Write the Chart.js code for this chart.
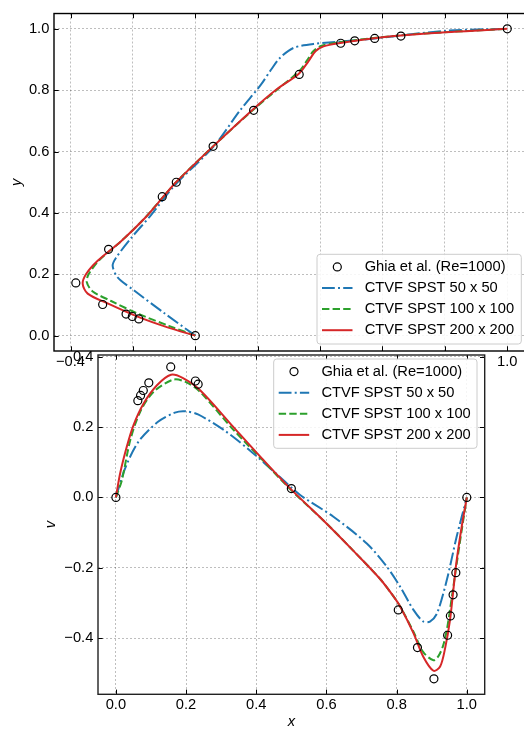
<!DOCTYPE html>
<html>
<head>
<meta charset="utf-8">
<script src="https://cdn.jsdelivr.net/npm/chart.js@4/dist/chart.umd.min.js"></script>
<style>
  html, body { margin: 0; padding: 0; background: #fff; overflow: hidden; width: 524px; height: 731px; }
  #wrap { position: relative; width: 524px; height: 731px; overflow: hidden; }
  canvas { position: absolute; left: 0; top: 0; }
</style>
</head>
<body>
<div id="wrap">
  <canvas id="uChart" width="540" height="731"></canvas>
  <canvas id="vChart" width="524" height="731"></canvas>
</div>
<script>
// ---- u along the vertical centreline (y on the vertical axis) ----
const ghiaY = [1.0, 0.9766, 0.9688, 0.9609, 0.9531, 0.8516, 0.7344, 0.6172, 0.5, 0.4531, 0.2813, 0.1719, 0.1016, 0.0703, 0.0625, 0.0547, 0.0];
const ghiaU = [1.0, 0.659, 0.575, 0.511, 0.466, 0.333, 0.187, 0.057, -0.061, -0.106, -0.278, -0.383, -0.297, -0.222, -0.202, -0.181, 0.0];

const u50Y = [0, 0.073, 0.147, 0.19, 0.228, 0.254, 0.318, 0.393, 0.489, 0.617, 0.735, 0.815, 0.87, 0.906, 0.938, 0.951, 0.965, 0.994, 1.0];
const u50U = [0, -0.099, -0.196, -0.249, -0.265, -0.254, -0.206, -0.142, -0.067, 0.059, 0.144, 0.208, 0.245, 0.272, 0.315, 0.379, 0.539, 0.807, 1.0];

const u100Y = [0, 0.032, 0.07, 0.113, 0.145, 0.175, 0.2, 0.244, 0.308, 0.382, 0.457, 0.5, 0.617, 0.735, 0.804, 0.864, 0.9, 0.927, 0.945, 0.956, 0.972, 0.986, 1.0];
const u100U = [0, -0.085, -0.18, -0.27, -0.33, -0.348, -0.342, -0.31, -0.238, -0.163, -0.099, -0.062, 0.057, 0.184, 0.265, 0.335, 0.36, 0.378, 0.405, 0.46, 0.59, 0.75, 1.0];

const u200Y = [0, 0.027, 0.062, 0.105, 0.137, 0.169, 0.201, 0.244, 0.308, 0.382, 0.457, 0.5, 0.617, 0.735, 0.804, 0.853, 0.895, 0.927, 0.943, 0.954, 0.972, 0.986, 1.0];
const u200U = [0, -0.089, -0.185, -0.281, -0.345, -0.361, -0.35, -0.313, -0.238, -0.163, -0.099, -0.062, 0.057, 0.182, 0.262, 0.331, 0.363, 0.385, 0.411, 0.465, 0.593, 0.753, 1.0];

// ---- v along the horizontal centreline ----
const ghiaX = [1.0, 0.9688, 0.9609, 0.9531, 0.9453, 0.9063, 0.8594, 0.8047, 0.5, 0.2344, 0.2266, 0.1563, 0.0938, 0.0781, 0.0703, 0.0625, 0.0];
const ghiaV = [0.0, -0.214, -0.277, -0.337, -0.392, -0.516, -0.427, -0.32, 0.025, 0.322, 0.331, 0.371, 0.326, 0.304, 0.29, 0.275, 0.0];

const v50X = [0, 0.026, 0.064, 0.12, 0.168, 0.197, 0.234, 0.31, 0.386, 0.462, 0.525, 0.62, 0.715, 0.772, 0.81, 0.848, 0.876, 0.895, 0.915, 0.943, 0.971, 1.0];
const v50V = [0, 0.082, 0.158, 0.215, 0.241, 0.245, 0.236, 0.19, 0.13, 0.063, 0.007, -0.055, -0.131, -0.197, -0.254, -0.32, -0.353, -0.353, -0.33, -0.235, -0.112, 0];

const v100X = [0, 0.017, 0.041, 0.069, 0.107, 0.164, 0.2, 0.24, 0.335, 0.416, 0.5, 0.6, 0.677, 0.753, 0.79, 0.81, 0.848, 0.876, 0.905, 0.92, 0.933, 0.943, 0.952, 0.971, 0.986, 1.0];
const v100V = [0, 0.049, 0.163, 0.243, 0.3, 0.335, 0.328, 0.3, 0.192, 0.108, 0.02, -0.074, -0.152, -0.232, -0.28, -0.31, -0.382, -0.44, -0.463, -0.45, -0.42, -0.377, -0.32, -0.19, -0.09, 0];

const v200X = [0, 0.012, 0.031, 0.05, 0.079, 0.117, 0.157, 0.19, 0.24, 0.335, 0.416, 0.5, 0.6, 0.677, 0.753, 0.79, 0.81, 0.848, 0.876, 0.905, 0.924, 0.938, 0.952, 0.962, 0.971, 0.986, 1.0];
const v200V = [0, 0.068, 0.144, 0.205, 0.267, 0.319, 0.349, 0.34, 0.305, 0.2, 0.111, 0.022, -0.074, -0.152, -0.232, -0.28, -0.31, -0.386, -0.453, -0.493, -0.481, -0.43, -0.35, -0.26, -0.18, -0.08, 0];

// ---- tick labels and legend text ----
const uTicks = [-0.4, -0.2, 0.0, 0.2, 0.4, 0.6, 0.8, 1.0];
const yTicks = [0.0, 0.2, 0.4, 0.6, 0.8, 1.0];
const xTicks = [0.0, 0.2, 0.4, 0.6, 0.8, 1.0];
const vTicks = [-0.4, -0.2, 0.0, 0.2, 0.4];
const seriesLabels = ['Ghia et al. (Re=1000)', 'CTVF SPST 50 x 50', 'CTVF SPST 100 x 100', 'CTVF SPST 200 x 200'];

const family = "'Liberation Sans', Arial, Helvetica, sans-serif";
const fontSize = 14.7;
const gridColor = 'rgba(0,0,0,0.32)';

// pair two arrays into {x, y} points
const pts = (xs, ys) => xs.map((x, i) => ({ x: x, y: ys[i] }));

// matplotlib style tick text with a real minus sign
const fmt = v => (v < -1e-9 ? '\u2212' : '') + Math.abs(v).toFixed(1);

function makeDatasets(ghia, s50, s100, s200) {
    return [
        {
            label: seriesLabels[0], data: ghia, showLine: false,
            pointRadius: 4, pointHoverRadius: 4, pointBorderWidth: 1.2,
            pointBorderColor: '#000', pointBackgroundColor: 'rgba(0,0,0,0)',
            borderColor: '#000', order: 0
        },
        {
            label: seriesLabels[1], data: s50, showLine: true, pointRadius: 0,
            borderColor: '#1f77b4', borderWidth: 2, borderDash: [12.8, 3.2, 2, 3.2],
            tension: 0.3, order: 3
        },
        {
            label: seriesLabels[2], data: s100, showLine: true, pointRadius: 0,
            borderColor: '#2ca02c', borderWidth: 2, borderDash: [7.4, 3.2],
            tension: 0.3, order: 2
        },
        {
            label: seriesLabels[3], data: s200, showLine: true, pointRadius: 0,
            borderColor: '#d62728', borderWidth: 2,
            tension: 0.3, order: 1
        }
    ];
}

// white axes background, spines and inward ticks on every side
function framePlugin(opts) {
    return {
        id: 'frame',
        beforeDraw(chart) {
            if (!opts.fill) return;
            const { ctx, chartArea: a } = chart;
            ctx.save();
            ctx.fillStyle = '#fff';
            ctx.fillRect(a.left, a.top, a.right - a.left, a.bottom - a.top);
            ctx.restore();
        },
        afterDatasetsDraw(chart) {
            const { ctx, chartArea: a, scales } = chart;
            const len = 4.7;
            ctx.save();
            ctx.strokeStyle = '#000';
            ctx.lineWidth = 1;
            ctx.beginPath();
            scales.x.ticks.forEach(t => {
                const px = Math.round(scales.x.getPixelForValue(t.value)) + 0.5;
                ctx.moveTo(px, a.bottom); ctx.lineTo(px, a.bottom - len);
                ctx.moveTo(px, a.top); ctx.lineTo(px, a.top + len);
            });
            scales.y.ticks.forEach(t => {
                const py = Math.round(scales.y.getPixelForValue(t.value)) + 0.5;
                ctx.moveTo(a.left, py); ctx.lineTo(a.left + len, py);
                ctx.moveTo(a.right, py); ctx.lineTo(a.right - len, py);
            });
            ctx.stroke();
            ctx.strokeStyle = opts.spine;
            ctx.lineWidth = 1.4;
            ctx.strokeRect(a.left, a.top, a.right - a.left, a.bottom - a.top);
            ctx.restore();
        }
    };
}

// legend box placed inside the axes, like matplotlib's
function legendPlugin(box) {
    return {
        id: 'boxLegend',
        afterDatasetsDraw(chart) {
            const ctx = chart.ctx;
            const r = 3;
            ctx.save();
            ctx.beginPath();
            ctx.moveTo(box.x + r, box.y);
            ctx.arcTo(box.x + box.w, box.y, box.x + box.w, box.y + box.h, r);
            ctx.arcTo(box.x + box.w, box.y + box.h, box.x, box.y + box.h, r);
            ctx.arcTo(box.x, box.y + box.h, box.x, box.y, r);
            ctx.arcTo(box.x, box.y, box.x + box.w, box.y, r);
            ctx.closePath();
            ctx.fillStyle = 'rgba(255,255,255,0.85)';
            ctx.fill();
            ctx.strokeStyle = '#cccccc';
            ctx.lineWidth = 1;
            ctx.stroke();

            chart.data.datasets.forEach((ds, i) => {
                const cy = box.y + 12.6 + i * 21.1;
                const hx = box.x + 5;
                ctx.beginPath();
                if (ds.showLine) {
                    ctx.setLineDash(ds.borderDash || []);
                    ctx.strokeStyle = ds.borderColor;
                    ctx.lineWidth = ds.borderWidth;
                    ctx.moveTo(hx, cy);
                    ctx.lineTo(hx + 30.5, cy);
                    ctx.stroke();
                    ctx.setLineDash([]);
                } else {
                    ctx.arc(hx + 15.3, cy, ds.pointRadius, 0, 2 * Math.PI);
                    ctx.strokeStyle = ds.pointBorderColor;
                    ctx.lineWidth = ds.pointBorderWidth;
                    ctx.stroke();
                }
                ctx.fillStyle = '#000';
                ctx.font = fontSize + 'px ' + family;
                ctx.textBaseline = 'middle';
                ctx.textAlign = 'left';
                ctx.fillText(ds.label, box.x + 47.7, cy);
            });
            ctx.restore();
        }
    };
}

function axis(min, max, tickValues, fitSize, horizontal, padding, title) {
    return {
        type: 'linear',
        min: min,
        max: max,
        afterBuildTicks: s => { s.ticks = tickValues.map(v => ({ value: v })); },
        afterFit: s => { if (horizontal) { s.height = fitSize; } else { s.width = fitSize; } },
        grid: { color: gridColor, lineWidth: 0.8, drawTicks: false },
        border: { display: false, dash: [2, 2] },
        ticks: {
            color: '#000', padding: padding, autoSkip: false, maxRotation: 0,
            font: { family: family, size: fontSize },
            callback: fmt
        },
        title: title
    };
}

Chart.defaults.font.family = family;
Chart.defaults.font.size = fontSize;

// Top chart: u against y
new Chart(document.getElementById('uChart').getContext('2d'), {
    type: 'scatter',
    data: { datasets: makeDatasets(pts(ghiaU, ghiaY), pts(u50U, u50Y), pts(u100U, u100Y), pts(u200U, u200Y)) },
    options: {
        responsive: false,
        animation: false,
        layout: { padding: { left: 0, top: 8.3, right: 11.2, bottom: 0 } },
        plugins: { legend: { display: false }, tooltip: { enabled: false } },
        scales: {
            x: axis(-0.453, 1.069, uTicks, 380, true, 2.2, { display: false }),
            y: axis(-0.05, 1.05, yTicks, 54, false, 4.7, {
                display: true, text: 'y', color: '#000',
                font: { family: family, size: fontSize, style: 'italic' },
                padding: { top: 8, bottom: 0 }
            })
        }
    },
    plugins: [framePlugin({ fill: false, spine: '#000' }), legendPlugin({ x: 317, y: 254.3, w: 204.3, h: 89.7 })]
});

// Bottom chart: x against v, laid over the lower part of the top one
new Chart(document.getElementById('vChart').getContext('2d'), {
    type: 'scatter',
    data: { datasets: makeDatasets(pts(ghiaX, ghiaV), pts(v50X, v50V), pts(v100X, v100V), pts(v200X, v200V)) },
    options: {
        responsive: false,
        animation: false,
        layout: { padding: { left: 0, top: 355, right: 39.3, bottom: 0 } },
        plugins: { legend: { display: false }, tooltip: { enabled: false } },
        scales: {
            x: axis(-0.051, 1.051, xTicks, 36.7, true, 2, {
                display: true, text: 'x', color: '#000',
                font: { family: family, size: fontSize, style: 'italic' },
                padding: { top: 0, bottom: 0 }
            }),
            y: axis(-0.56, 0.405, vTicks, 98, false, 4.7, {
                display: true, text: 'v', color: '#000',
                font: { family: family, size: fontSize, style: 'italic' },
                padding: { top: 42.5, bottom: 0 }
            })
        }
    },
    plugins: [framePlugin({ fill: true, spine: '#222' }), legendPlugin({ x: 273.7, y: 359, w: 203.3, h: 89.3 })]
});
</script>
</body>
</html>
